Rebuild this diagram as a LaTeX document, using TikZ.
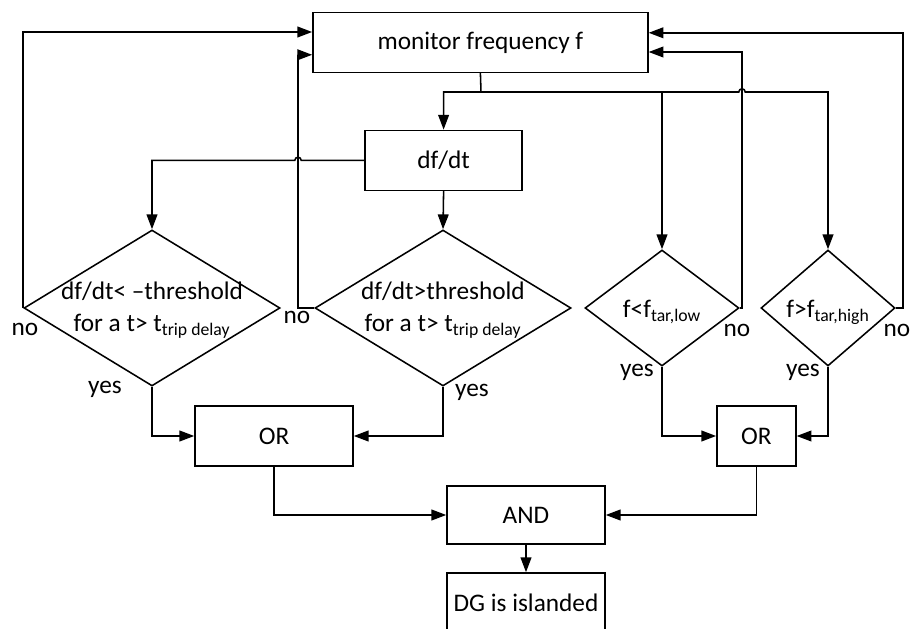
\documentclass[tikz,border=0pt]{standalone}
\usepackage{fontspec}
\setmainfont{Carlito}
\usetikzlibrary{arrows.meta,shapes.geometric}

\tikzset{
	box/.style={draw, line width=1.1pt, minimum height=1.5cm, inner sep=0pt},
	choice/.style={draw, diamond, line width=1.1pt, inner sep=0pt},
	arrowline/.style={line width=1.1pt, -{Triangle[length=0.37cm,width=0.27cm]}},
}

\begin{document}
\begin{tikzpicture}[font=\fontsize{18}{23}\selectfont]
	\useasboundingbox (0,0) rectangle (22.8,15.7);

	\node[box, minimum width=8.375cm] (monitor) at (12.01,14.64) {monitor frequency f};
	\node[box, minimum width=3.925cm] (dfdt) at (11.09,11.69) {df/dt};

	\node[choice, minimum width=6.4cm, minimum height=3.9cm] (slopeneg) at (3.8,8) {};
	\node[align=center] (slopenegtxt) at (3.8,7.95) {df/dt< –threshold\\for a t> t\textsubscript{trip delay}};
	\node[choice, minimum width=6.4cm, minimum height=3.9cm] (slopepos) at (11.075,8) {};
	\node[align=center] (slopepostxt) at (11.075,7.95) {df/dt>threshold\\for a t> t\textsubscript{trip delay}};
	\node[choice, minimum width=3.85cm, minimum height=2.9cm] (flow) at (16.55,8) {};
	\node (flowtxt) at (16.55,7.9) {f<f\textsubscript{tar,low}};
	\node[choice, minimum width=3.35cm, minimum height=2.9cm] (fhigh) at (20.7,8) {};
	\node (fhightxt) at (20.7,7.9) {f>f\textsubscript{tar,high}};

	\node[box, minimum width=3.95cm] (orslope) at (6.85,4.8) {OR};
	\node[box, minimum width=1.975cm] (orfreq) at (18.91,4.8) {OR};
	\node[box, minimum width=3.95cm, minimum height=1.45cm] (and) at (13.15,2.825) {AND};
	\node[box, minimum width=3.95cm] (islanded) at (13.15,0.625) {DG is islanded};

	\coordinate (split) at (12.025,13.4);
	\coordinate (hopa) at (18.55,13.4);
	\coordinate (hopb) at (7.45,11.69);

	% from the measurement to the four checks
	\draw[arrowline] (monitor.south) -- (split) -| (dfdt.north);
	\draw[arrowline] (split) -| (flow.north);
	\draw[arrowline] (split) -- ([xshift=-0.08cm]hopa) arc[start angle=180, end angle=0, radius=0.08] -| (fhigh.north);
	\draw[arrowline] (dfdt.west) -- ([xshift=0.08cm]hopb) arc[start angle=0, end angle=180, radius=0.08] -| (slopeneg.north);
	\draw[arrowline] (dfdt.south) -- (slopepos.north);

	% no: back to the measurement
	\draw[arrowline] (slopeneg.west) |- ([yshift=0.26cm]monitor.west);
	\draw[arrowline] (slopepos.west) -- (hopb |- slopepos.west) |- ([yshift=-0.31cm]monitor.west);
	\draw[arrowline] (flow.east) -- (hopa |- flow.east) |- ([yshift=-0.24cm]monitor.east);
	\draw[arrowline] (fhigh.east) -- ++(0.175,0) |- ([yshift=0.24cm]monitor.east);

	% yes: into the logic
	\draw[arrowline] (slopeneg.south) |- (orslope.west);
	\draw[arrowline] (slopepos.south) |- (orslope.east);
	\draw[arrowline] (flow.south) |- (orfreq.west);
	\draw[arrowline] (fhigh.south) |- (orfreq.east);
	\draw[arrowline] (orslope.south) |- (and.west);
	\draw[arrowline] (orfreq.south) |- (and.east);
	\draw[arrowline] (and.south) -- (islanded.north);

	\node (noneg) at (0.625,7.475) {no};
	\node (nopos) at (7.425,7.775) {no};
	\node (nolow) at (18.425,7.45) {no};
	\node (nohigh) at (22.425,7.45) {no};
	\node (yesneg) at (2.625,5.975) {yes};
	\node (yespos) at (11.8,5.9) {yes};
	\node (yeslow) at (15.925,6.4) {yes};
	\node (yeshigh) at (20.075,6.4) {yes};
\end{tikzpicture}
\end{document}
